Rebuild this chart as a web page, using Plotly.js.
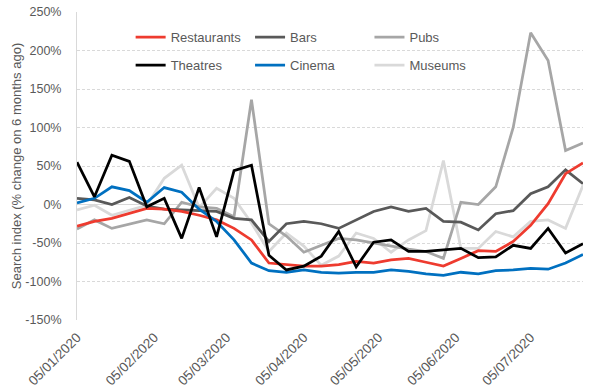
<!DOCTYPE html>
<html>
<head>
<meta charset="utf-8">
<script src="https://cdn.plot.ly/plotly-3.0.1.min.js"></script>
<style>html,body{margin:0;padding:0;background:#fff;}#chart{width:600px;height:390px;}</style>
</head>
<body>
<div id="chart"></div>
<script>
const weeks = ["2020-01-05","2020-01-12","2020-01-19","2020-01-26","2020-02-02","2020-02-09","2020-02-16","2020-02-23",
  "2020-03-01","2020-03-08","2020-03-15","2020-03-22","2020-03-29","2020-04-05","2020-04-12","2020-04-19","2020-04-26",
  "2020-05-03","2020-05-10","2020-05-17","2020-05-24","2020-05-31","2020-06-07","2020-06-14","2020-06-21","2020-06-28",
  "2020-07-05","2020-07-12","2020-07-19","2020-07-26"];

const restaurants = [-28,-22,-18,-12,-5,-6,-9,-14,-20,-31,-46,-76,-78,-80,-80,-78,-74,-76,-72,-70,-75,-80,-70,-60,-61,-48,-27,1,40,54];
const bars        = [8,6,0,9,-2,-6,-7,-8,-9,-18,-20,-48,-25,-22,-25,-31,-20,-9,-3,-9,-5,-22,-23,-33,-12,-8,14,23,45,27];
const pubs        = [-32,-20,-31,-26,-20,-25,3,-3,-5,-16,136,-25,-41,-62,-53,-44,-46,-50,-54,-58,-61,-70,3,0,23,100,223,187,70,80];
const theatres    = [55,10,64,56,-3,8,-44,22,-42,44,51,-66,-85,-80,-67,-35,-81,-49,-46,-61,-61,-59,-57,-69,-68,-53,-57,-31,-63,-51];
const cinema      = [2,8,23,18,3,22,16,-6,-22,-46,-76,-86,-88,-85,-88,-89,-88,-88,-85,-87,-90,-92,-88,-90,-86,-85,-83,-84,-76,-65];
const museums     = [-7,-1,-14,-7,-1,34,51,-4,21,8,-24,-61,-37,-54,-79,-67,-37,-44,-62,-46,-34,57,-57,-57,-35,-42,-22,-20,-31,25];

const seriesNames = ["Restaurants","Bars","Pubs","Theatres","Cinema","Museums"];
const tickVals = ["2020-01-05","2020-02-05","2020-03-05","2020-04-05","2020-05-05","2020-06-05","2020-07-05"];
const tickText = ["05/01/2020","05/02/2020","05/03/2020","05/04/2020","05/05/2020","05/06/2020","05/07/2020"];
const yTicks = [-150,-100,-50,0,50,100,150,200,250];
const yTickText = ["-150%","-100%","-50%","0%","50%","100%","150%","200%","250%"];

const values = [restaurants, bars, pubs, theatres, cinema, museums];
const colors = ["#EE3B2F","#595959","#A6A6A6","#000000","#0070C0","#D9D9D9"];
const legendIds = ["legend","legend2","legend3","legend4","legend5","legend6"];
const drawOrder = [5,2,1,0,4,3];

const traces = drawOrder.map(i => ({
  x: weeks, y: values[i], name: seriesNames[i], type: "scatter", mode: "lines",
  line: {color: colors[i], width: 2.75}, legend: legendIds[i], hoverinfo: "skip"
}));

const fontFam = "Liberation Sans, Arial, sans-serif";
const legPos = [[0.106,0.918],[0.342,0.918],[0.578,0.918],[0.106,0.827],[0.342,0.827],[0.578,0.827]];
const layout = {
  width: 600, height: 390,
  margin: {l: 77, r: 17, t: 12, b: 69.5},
  paper_bgcolor: "#fff", plot_bgcolor: "#fff",
  font: {family: fontFam, size: 13, color: "#595959"},
  showlegend: true,
  xaxis: {
    type: "date", range: ["2020-01-05","2020-07-26"],
    tickvals: tickVals, ticktext: tickText, tickangle: -45,
    showgrid: false, zeroline: false, showline: false, ticks: "",
    ticklabelstandoff: 6,
    tickfont: {size: 13.5, color: "#595959", family: fontFam}
  },
  yaxis: {
    range: [-150, 250], tickvals: yTicks, ticktext: yTickText,
    showgrid: true, gridcolor: "#D9D9D9", griddash: "3px,2px", gridwidth: 1,
    zeroline: true, zerolinecolor: "#D9D9D9", zerolinewidth: 1,
    showline: true, linecolor: "#D9D9D9", linewidth: 1, ticks: "",
    ticklabelstandoff: 12,
    tickfont: {size: 12.5, color: "#595959", family: fontFam},
    title: {text: "Search index (% change on 6 months ago)", font: {size: 13, color: "#595959", family: fontFam}, standoff: 0}
  }
};
legendIds.forEach((id, k) => {
  layout[id] = {x: legPos[k][0], y: legPos[k][1], xanchor: "left", yanchor: "middle",
    bgcolor: "rgba(0,0,0,0)", font: {size: 13, color: "#595959", family: fontFam}};
});

Plotly.newPlot("chart", traces, layout, {staticPlot: true, displayModeBar: false});
</script>
</body>
</html>
